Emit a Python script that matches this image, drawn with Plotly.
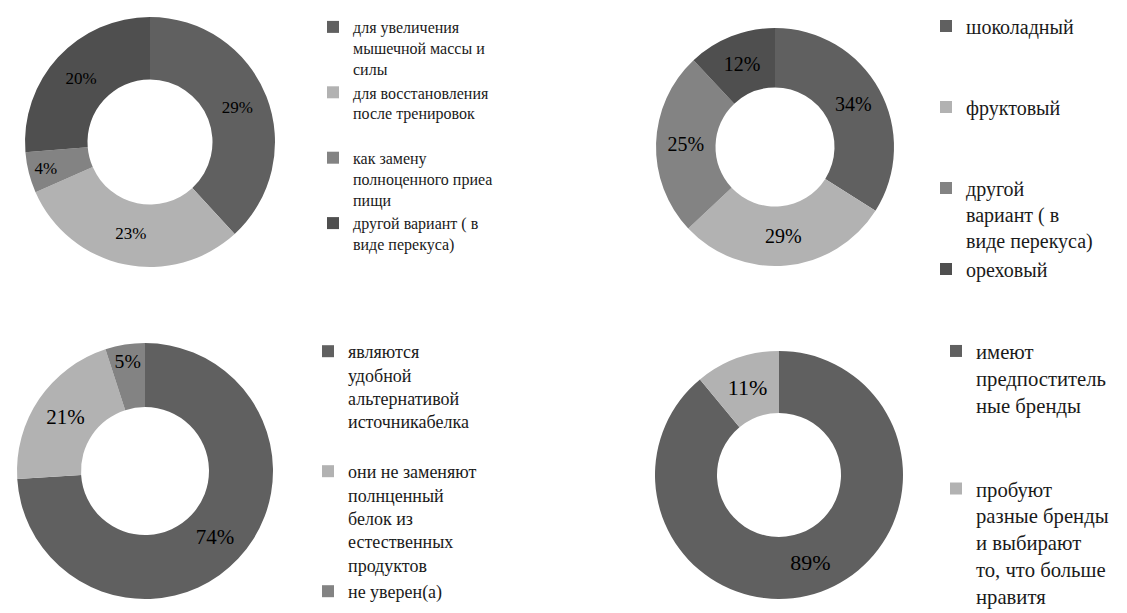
import plotly.graph_objects as go

# page body has an 8px default margin: reference pixel coords are shifted by OFF
OFF = 8
W, H = 1127 - OFF, 613 - OFF

# ---- data ----
labels1 = ["для увеличения<br>мышечной массы и<br>силы",
           "для восстановления<br>после тренировок",
           "как замену<br>полноценного приеа<br>пищи",
           "другой вариант ( в<br>виде перекуса)"]
values1 = [29, 23, 4, 20]

labels2 = ["шоколадный", "фруктовый",
           "другой<br>вариант ( в<br>виде перекуса)", "ореховый"]
values2 = [34, 29, 25, 12]

labels3 = ["являются<br>удобной<br>альтернативой<br>источникабелка",
           "они не заменяют<br>полнценный<br>белок из<br>естественных<br>продуктов",
           "не уверен(а)"]
values3 = [74, 21, 5]

labels4 = ["имеют<br>предпоститель<br>ные бренды",
           "пробуют<br>разные бренды<br>и выбирают<br>то, что больше<br>нравитя"]
values4 = [89, 11]

# ---- styling ----
C_MID, C_LIGHT, C_GRAY, C_DARK = "#606060", "#b2b2b2", "#838383", "#4f4f4f"
colors1 = [C_MID, C_LIGHT, C_GRAY, C_DARK]
colors2 = [C_MID, C_LIGHT, C_GRAY, C_DARK]
colors3 = [C_MID, C_LIGHT, C_GRAY]
colors4 = [C_MID, C_LIGHT]

SERIF = "Liberation Serif, Times New Roman, Tinos, serif"


def pad(labels, extra):
    return [lab + "<br>\u00a0" * n for lab, n in zip(labels, extra)]


def dom(cx, cy, r):
    cx, cy = cx - OFF, cy - OFF
    return dict(x=[(cx - r) / W, (cx + r) / W],
                y=[1 - (cy + r) / H, 1 - (cy - r) / H])


charts = [
    (pad(labels1, [0, 1, 0, 0]), values1, colors1, (150, 142, 125), 17, "legend"),
    (pad(labels2, [2, 2, 0, 0]), values2, colors2, (775, 147, 119), 20, "legend2"),
    (pad(labels3, [1, 0, 0]), values3, colors3, (145, 471, 128), 21, "legend3"),
    (pad(labels4, [2, 0]), values4, colors4, (779, 475, 124), 22, "legend4"),
]

fig = go.Figure()
for labs, vals, cols, (cx, cy, r), fs, leg in charts:
    fig.add_trace(go.Pie(
        labels=labs, values=vals, hole=0.5, sort=False,
        direction="clockwise", rotation=0,
        domain=dom(cx, cy, r),
        marker=dict(colors=cols, line=dict(color="#ffffff", width=0)),
        texttemplate="%{value}%", textposition="inside",
        insidetextorientation="horizontal",
        textfont=dict(family=SERIF, size=fs, color="#000000"),
        legend=leg, showlegend=True,
    ))


def legend(x_px, y_px, size):
    return dict(x=(x_px - OFF) / W, y=1 - (y_px - OFF) / H,
                xanchor="left", yanchor="top",
                bgcolor="rgba(0,0,0,0)", valign="top", traceorder="normal",
                font=dict(family=SERIF, size=size, color="#1a1a1a"))


fig.update_layout(
    width=W, height=H,
    font=dict(family=SERIF),
    margin=dict(l=0, r=0, t=0, b=0, autoexpand=False),
    paper_bgcolor="white", plot_bgcolor="white",
    legend=legend(313, 10, 16),
    legend2=legend(926, 6.5, 20),
    legend3=legend(308, 333, 18),
    legend4=legend(936, 331, 20.7),
)

fig.write_html("out.html")
